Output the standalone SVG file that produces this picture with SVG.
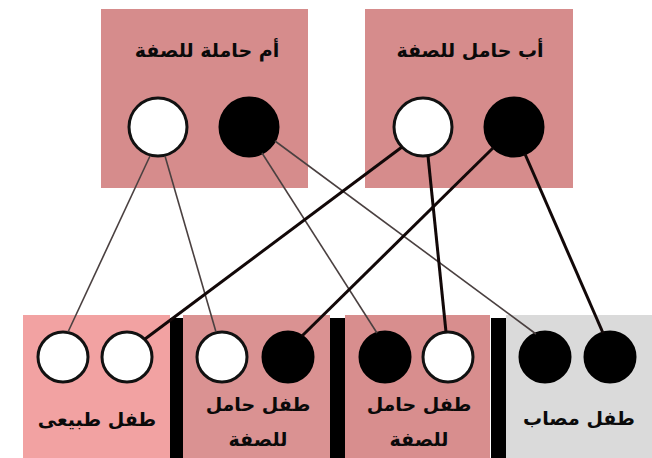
<svg xmlns="http://www.w3.org/2000/svg" width="652" height="458" viewBox="0 0 652 458">
<style>
.t{font-family:"DejaVu Sans",sans-serif;font-weight:bold;font-size:19px;fill:#0a0a0a;text-anchor:middle;direction:rtl}
.w{fill:#fff;stroke:#111;stroke-width:3}
.b{fill:#000;stroke:#000;stroke-width:3}
.thin{stroke:#4a4040;stroke-width:1.6;fill:none}
.thick{stroke:#120808;stroke-width:3;fill:none}
.bar{fill:#000}
</style>
<rect width="652" height="458" fill="#fff"/>
<g id="mother">
<rect x="101" y="9" width="207" height="179" fill="#d68c8c"/>
<text class="t" x="207" y="57">أم حاملة للصفة</text>
<circle class="w" cx="158" cy="127" r="29"/>
<circle class="b" cx="249" cy="127" r="29"/>
</g>
<g id="father">
<rect x="365" y="9" width="208" height="179" fill="#d68c8c"/>
<text class="t" x="470" y="57">أب حامل للصفة</text>
<circle class="w" cx="423" cy="127" r="29"/>
<circle class="b" cx="514" cy="127" r="29"/>
</g>
<g id="child-normal">
<rect x="23" y="315" width="147" height="143" fill="#f2a2a2"/>
<circle class="w" cx="63" cy="357" r="25"/>
<circle class="w" cx="127" cy="357" r="25"/>
<text class="t" x="97" y="426">طفل طبيعى</text>
</g>
<rect class="bar" x="170" y="318" width="13" height="140"/>
<g id="child-carrier-1">
<rect x="183" y="315" width="147" height="143" fill="#da9292"/>
<circle class="w" cx="222" cy="357" r="25"/>
<circle class="b" cx="288" cy="357" r="25"/>
<text class="t" x="258" y="411">طفل حامل</text>
<text class="t" x="258" y="446">للصفة</text>
</g>
<rect class="bar" x="330" y="318" width="15" height="140"/>
<g id="child-carrier-2">
<rect x="345" y="315" width="145" height="143" fill="#d88e8e"/>
<circle class="b" cx="385" cy="357" r="25"/>
<circle class="w" cx="448" cy="357" r="25"/>
<text class="t" x="419" y="411">طفل حامل</text>
<text class="t" x="419" y="446">للصفة</text>
</g>
<rect class="bar" x="491" y="318" width="15" height="140"/>
<g id="child-affected">
<rect x="506" y="315" width="146" height="143" fill="#dadada"/>
<circle class="b" cx="545" cy="357" r="25"/>
<circle class="b" cx="610" cy="357" r="25"/>
<text class="t" x="579" y="425">طفل مصاب</text>
</g>
<g id="connectors">
<line class="thin" x1="150" y1="156" x2="68" y2="332"/>
<line class="thin" x1="165" y1="156" x2="216" y2="332"/>
<line class="thin" x1="262" y1="153" x2="377" y2="333"/>
<line class="thin" x1="275" y1="141" x2="536" y2="334"/>
<line class="thick" x1="402" y1="147" x2="145" y2="339"/>
<line class="thick" x1="428" y1="156" x2="446" y2="332"/>
<line class="thick" x1="493" y1="148" x2="302" y2="336"/>
<line class="thick" x1="525" y1="154" x2="603" y2="333"/>
</g>
</svg>
